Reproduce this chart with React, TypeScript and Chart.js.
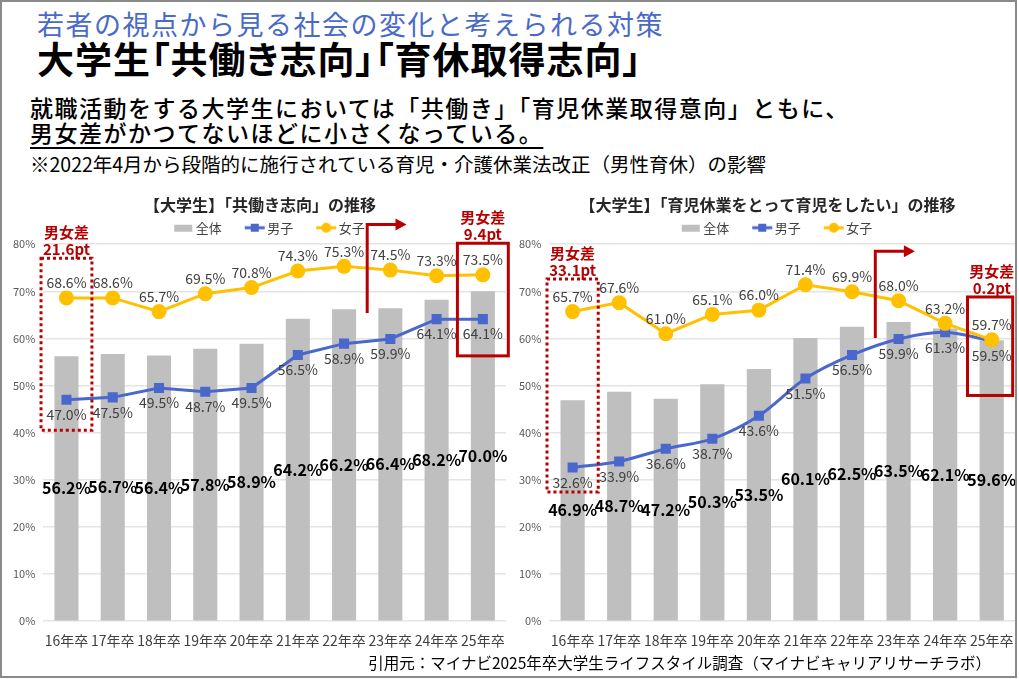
import React, { useEffect, useRef } from "react";
import { Chart, registerables } from "chart.js";

Chart.register(...registerables);

// ---------------- data ----------------
const categories = ["16年卒", "17年卒", "18年卒", "19年卒", "20年卒", "21年卒", "22年卒", "23年卒", "24年卒", "25年卒"];
const seriesNames = ["全体", "男子", "女子"];
const yTickMax = 80;
const yTickStep = 10;

// 共働き志向
const dualAll = [56.2, 56.7, 56.4, 57.8, 58.9, 64.2, 66.2, 66.4, 68.2, 70.0];
const dualMale = [47.0, 47.5, 49.5, 48.7, 49.5, 56.5, 58.9, 59.9, 64.1, 64.1];
const dualFemale = [68.6, 68.6, 65.7, 69.5, 70.8, 74.3, 75.3, 74.5, 73.3, 73.5];
const dualGapFirst = ["男女差", "21.6pt"];
const dualGapLast = ["男女差", "9.4pt"];

// 育児休業をとって育児をしたい
const leaveAll = [46.9, 48.7, 47.2, 50.3, 53.5, 60.1, 62.5, 63.5, 62.1, 59.6];
const leaveMale = [32.6, 33.9, 36.6, 38.7, 43.6, 51.5, 56.5, 59.9, 61.3, 59.5];
const leaveFemale = [65.7, 67.6, 61.0, 65.1, 66.0, 71.4, 69.9, 68.0, 63.2, 59.7];
const leaveGapFirst = ["男女差", "33.1pt"];
const leaveGapLast = ["男女差", "0.2pt"];

// ---------------- styles ----------------
const FONT = "'Noto Sans CJK JP', 'Noto Sans', sans-serif";
const BAR_COLOR = "#bfbfbf";
const MALE_COLOR = "#4a67cc";
const FEMALE_COLOR = "#ffc000";
const RED = "#b80000";

function makeLegendIcon(kind: "bar" | "rect" | "circle", color: string) {
  // wide transparent canvas; the icon sits in its right part so it hugs the label text
  const c = document.createElement("canvas");
  c.width = 44;
  c.height = 12;
  const g = c.getContext("2d")!;
  const x0 = 23;
  if (kind === "bar") {
    g.fillStyle = color;
    g.fillRect(x0 + 1, 3, 18, 7);
  } else {
    g.strokeStyle = color;
    g.lineWidth = 3;
    g.beginPath();
    g.moveTo(x0, 6);
    g.lineTo(x0 + 20, 6);
    g.stroke();
    g.fillStyle = color;
    if (kind === "rect") g.fillRect(x0 + 6, 2, 8, 8);
    else {
      g.beginPath();
      g.arc(x0 + 10, 6, 5, 0, Math.PI * 2);
      g.fill();
    }
  }
  return c;
}

const valueLabelPlugin = {
  id: "valueLabels",
  afterDatasetsDraw(chart: any) {
    const ctx = chart.ctx;
    chart.data.datasets.forEach((ds: any, di: number) => {
      const meta = chart.getDatasetMeta(di);
      meta.data.forEach((el: any, i: number) => {
        const v = ds.data[i];
        const text = v.toFixed(1) + "%";
        ctx.save();
        ctx.textAlign = "center";
        ctx.textBaseline = "middle";
        let y = el.y;
        if (ds.type === "bar") {
          ctx.font = `bold 16px ${FONT}`;
          ctx.fillStyle = "#000000";
          y = (el.y + el.base) / 2;
        } else if (di === 1) {
          ctx.font = `14px ${FONT}`;
          ctx.fillStyle = "#404040";
          y = el.y + 15;
        } else {
          ctx.font = `14px ${FONT}`;
          ctx.fillStyle = "#404040";
          y = el.y - 15;
        }
        ctx.fillText(text, el.x, y);
        ctx.restore();
      });
    });
  },
};

const gapMarkPlugin = {
  id: "gapMarks",
  afterDraw(chart: any, _args: any, opts: any) {
    const ctx = chart.ctx;
    const xs = chart.scales.x;
    const ys = chart.scales.y;
    const drawBox = (b: any, dotted: boolean) => {
      const x0 = xs.getPixelForValue(b.index - b.left);
      const x1 = xs.getPixelForValue(b.index + b.right);
      const y0 = ys.getPixelForValue(b.top);
      const y1 = ys.getPixelForValue(b.bottom);
      ctx.save();
      ctx.strokeStyle = RED;
      ctx.lineWidth = 3;
      if (dotted) ctx.setLineDash([3, 3]);
      ctx.strokeRect(x0, y0, x1 - x0, y1 - y0);
      ctx.setLineDash([]);
      ctx.fillStyle = RED;
      ctx.font = `bold 15px ${FONT}`;
      ctx.textAlign = "center";
      ctx.textBaseline = "middle";
      const cx = xs.getPixelForValue(b.index);
      ctx.fillText(b.text[0], cx, y0 - 26);
      ctx.fillText(b.text[1], cx, y0 - 9);
      ctx.restore();
    };
    if (opts.first) drawBox(opts.first, true);
    if (opts.last) drawBox(opts.last, false);
    if (opts.arrow) {
      const a = opts.arrow;
      const x0 = xs.getPixelForValue(a.x0);
      const x1 = xs.getPixelForValue(a.x1);
      const yb = ys.getPixelForValue(a.yBottom);
      const yt = ys.getPixelForValue(a.yTop);
      ctx.save();
      ctx.strokeStyle = RED;
      ctx.fillStyle = RED;
      ctx.lineWidth = 3;
      ctx.beginPath();
      ctx.moveTo(x0, yb);
      ctx.lineTo(x0, yt);
      ctx.lineTo(x1 - 9, yt);
      ctx.stroke();
      ctx.beginPath();
      ctx.moveTo(x1, yt);
      ctx.lineTo(x1 - 11, yt - 6);
      ctx.lineTo(x1 - 11, yt + 6);
      ctx.closePath();
      ctx.fill();
      ctx.restore();
    }
  },
};

function makeConfig(
  title: string,
  all: number[],
  male: number[],
  female: number[],
  marks: any,
  maleTension: number
): any {
  const icons = [
    makeLegendIcon("bar", BAR_COLOR),
    makeLegendIcon("rect", MALE_COLOR),
    makeLegendIcon("circle", FEMALE_COLOR),
  ];
  return {
    type: "bar",
    data: {
      labels: categories,
      datasets: [
        {
          type: "bar",
          label: seriesNames[0],
          data: all,
          backgroundColor: BAR_COLOR,
          categoryPercentage: 1,
          barPercentage: 0.52,
          order: 2,
        },
        {
          type: "line",
          label: seriesNames[1],
          data: male,
          borderColor: MALE_COLOR,
          backgroundColor: MALE_COLOR,
          borderWidth: 3,
          pointStyle: "rect",
          pointRadius: 5,
          tension: maleTension,
          order: 1,
        },
        {
          type: "line",
          label: seriesNames[2],
          data: female,
          borderColor: FEMALE_COLOR,
          backgroundColor: FEMALE_COLOR,
          borderWidth: 3,
          pointStyle: "circle",
          pointRadius: 6,
          order: 0,
        },
      ],
    },
    options: {
      animation: false,
      responsive: true,
      maintainAspectRatio: false,
      layout: { padding: { left: 1, right: 0, top: 0, bottom: 0 } },
      plugins: {
        tooltip: { enabled: false },
        title: {
          display: true,
          text: title,
          color: "#262626",
          font: { size: 16, weight: "bold", family: FONT },
          padding: { top: 5, bottom: 2 },
        },
        legend: {
          display: true,
          labels: {
            usePointStyle: true,
            pointStyleWidth: 34,
            color: "#404040",
            font: { size: 13, family: FONT },
            padding: 5,
            sort: (a: any, b: any) => a.datasetIndex - b.datasetIndex,
            generateLabels: (chart: any) => {
              const items = (Chart as any).defaults.plugins.legend.labels.generateLabels(chart);
              return items.map((it: any) => ({ ...it, pointStyle: icons[it.datasetIndex] }));
            },
          },
        },
        gapMarks: marks,
      },
      scales: {
        x: {
          grid: { display: false },
          border: { display: false },
          ticks: { color: "#404040", font: { size: 14, family: FONT }, maxRotation: 0, autoSkip: false },
        },
        y: {
          min: 0,
          max: yTickMax,
          ticks: {
            stepSize: yTickStep,
            color: "#595959",
            font: { size: 11, family: FONT },
            padding: 8,
            callback: (v: any) => v + "%",
          },
          grid: { color: "#e4e4e4", drawTicks: false, lineWidth: 1.5 },
          border: { display: false },
        },
      },
    },
    plugins: [valueLabelPlugin, gapMarkPlugin],
  };
}

function ChartBox({ makeCfg, style }: { makeCfg: () => any; style: React.CSSProperties }) {
  const ref = useRef<HTMLCanvasElement>(null);
  useEffect(() => {
    const ch = new Chart(ref.current!, makeCfg());
    return () => ch.destroy();
  }, []);
  return (
    <div style={{ position: "absolute", ...style }}>
      <canvas ref={ref} />
    </div>
  );
}

export default function App() {
  Chart.defaults.font.family = FONT;
  const text: React.CSSProperties = {
    position: "absolute",
    whiteSpace: "nowrap",
    fontFamily: FONT,
    lineHeight: 1,
  };
  return (
    <div
      style={{
        position: "fixed",
        left: 0,
        top: 0,
        width: 1017,
        height: 678,
        boxSizing: "border-box",
        border: "2px solid #8a8a8a",
        background: "#ffffff",
        overflow: "hidden",
      }}
    >
      <div style={{ ...text, left: 35, top: 8, fontSize: 27, color: "#4a6ac8", letterSpacing: 1.5 }}>
        若者の視点から見る社会の変化と考えられる対策
      </div>
      <div style={{ ...text, left: 35, top: 38, fontSize: 37, fontWeight: 700, color: "#000", fontFeatureSettings: "'palt'", letterSpacing: 1 }}>
        大学生「共働き志向」「育休取得志向」
      </div>
      <div style={{ ...text, left: 28, top: 94, fontSize: 23, fontWeight: 500, color: "#000", letterSpacing: 1.5 }}>
        就職活動をする大学生においては「共働き」「育児休業取得意向」ともに、
      </div>
      <div
        style={{
          ...text,
          left: 28,
          top: 119,
          fontSize: 23,
          fontWeight: 500,
          color: "#000",
          letterSpacing: 1.5,
          textDecoration: "underline",
          textUnderlineOffset: 5,
          textDecorationThickness: 2,
        }}
      >
        男女差がかつてないほどに小さくなっている。
      </div>
      <div style={{ ...text, left: 28, top: 152, fontSize: 19.5, color: "#000" }}>
        ※2022年4月から段階的に施行されている育児・介護休業法改正（男性育休）の影響
      </div>

      <ChartBox
        style={{ left: 2, top: 188, width: 511, height: 462 }}
        makeCfg={() =>
          makeConfig("【大学生】「共働き志向」の推移", dualAll, dualMale, dualFemale, {
            first: { index: 0, left: 0.55, right: 0.55, top: 77, bottom: 40.5, text: dualGapFirst },
            last: { index: 9, left: 0.55, right: 0.55, top: 80.2, bottom: 56.3, text: dualGapLast },
            arrow: { x0: 6.5, x1: 7.35, yBottom: 65.4, yTop: 84.2 },
          }, 0)
        }
      />
      <ChartBox
        style={{ left: 508, top: 188, width: 514, height: 462 }}
        makeCfg={() =>
          makeConfig("【大学生】「育児休業をとって育児をしたい」の推移", leaveAll, leaveMale, leaveFemale, {
            first: { index: 0, left: 0.55, right: 0.55, top: 72.6, bottom: 27.4, text: leaveGapFirst },
            last: { index: 9, left: 0.52, right: 0.45, top: 68.8, bottom: 47.9, text: leaveGapLast },
            arrow: { x0: 6.5, x1: 7.35, yBottom: 60.1, yTop: 78.5 },
          }, 0.3)
        }
      />

      <div style={{ ...text, right: 24, top: 653, fontSize: 15.5, color: "#000" }}>
        引用元：マイナビ2025年卒大学生ライフスタイル調査（マイナビキャリアリサーチラボ）
      </div>
    </div>
  );
}
